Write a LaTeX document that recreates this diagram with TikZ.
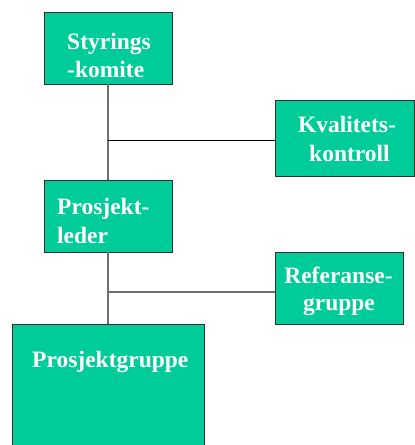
\documentclass[tikz,border=0pt]{standalone}
\usepackage{fontspec}
\setmainfont{Liberation Serif}
\definecolor{boxgreen}{HTML}{00CC99}
\definecolor{edgegray}{HTML}{303030}
\definecolor{linegray}{HTML}{707070}
\tikzset{
  orgbox/.style={draw=edgegray, fill=boxgreen, line width=0.9pt},
  lbl/.style={anchor=base, inner sep=0pt, text=white, font=\fontsize{23.5}{28}\selectfont\bfseries},
  lbll/.style={lbl, anchor=base west},
  vline/.style={draw=linegray, line width=1.4pt},
  hline/.style={draw=black, line width=1pt},
  hlineg/.style={draw=linegray, line width=1.2pt}
}
\begin{document}
\begin{tikzpicture}[x=1pt,y=-1pt]
\useasboundingbox (0,0) rectangle (415,445);
\coordinate (j1) at (108,140);
\coordinate (j2) at (108,292);
% boxes
\path[orgbox] (44,12) rectangle (172,84);
\node[inner sep=0pt, minimum width=128pt, minimum height=72pt] (sty) at (108,48) {};
\path[orgbox] (275,100) rectangle (414.5,176);
\node[inner sep=0pt, minimum width=139pt, minimum height=76pt] (kva) at (344.75,138) {};
\path[orgbox] (44,180) rectangle (172,252);
\node[inner sep=0pt, minimum width=128pt, minimum height=72pt] (pl) at (108,216) {};
\path[orgbox] (275,252) rectangle (403,324);
\node[inner sep=0pt, minimum width=128pt, minimum height=72pt] (ref) at (339,288) {};
\path[orgbox] (12,324) rectangle (204,450);
\node[inner sep=0pt, minimum width=192pt, minimum height=121pt] (pg) at (108,384.5) {};
% connectors
\draw[vline] (sty.south) -- (j1);
\draw[vline] (j1) -- (pl.north);
\draw[hline] (j1) -- (j1 -| kva.west);
\draw[vline] (pl.south) -- (j2);
\draw[vline] (j2) -- (pg.north);
\draw[hlineg] (j2) -- (j2 -| ref.west);
% labels
\node[lbll] (t1) at (67,49) {Styrings};
\node[lbll] (t2) at (67,77) {-komite};
\node[lbl] (t3) at (347,132) {Kvalitets-};
\node[lbl] (t4) at (349.5,161) {kontroll};
\node[lbll] (t5) at (57,214) {Prosjekt-};
\node[lbll] (t6) at (57,243) {leder};
\node[lbl] (t7) at (338.5,283) {Referanse-};
\node[lbl] (t8) at (339,310) {gruppe};
\node[lbll] (t9) at (32,367) {Prosjektgruppe};
\end{tikzpicture}
\end{document}
